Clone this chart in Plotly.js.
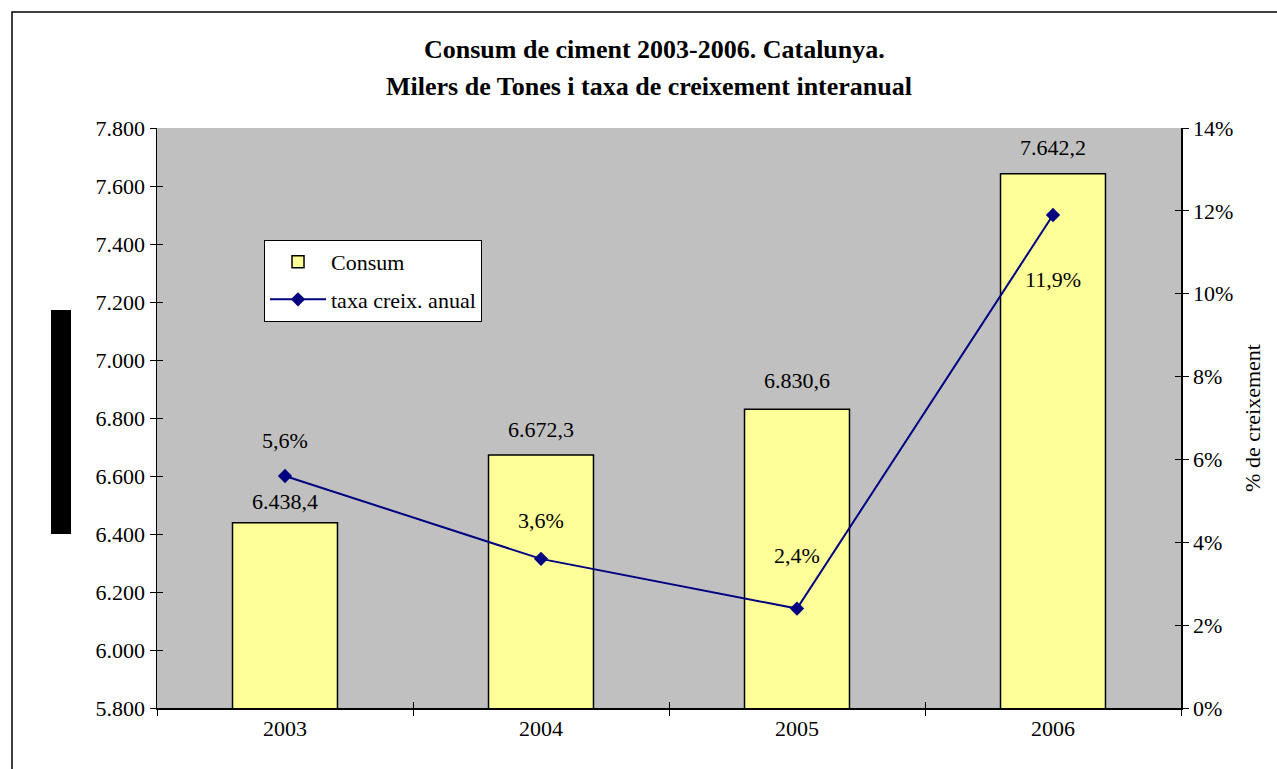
<!DOCTYPE html>
<html>
<head>
<meta charset="utf-8">
<script src="https://cdn.plot.ly/plotly-3.0.1.min.js"></script>
<style>html,body{margin:0;padding:0;background:#fff;}#chart{width:1277px;height:769px;}</style>
</head>
<body>
<div id="chart"></div>
<script>
// ---- data ----
const years = ['2003', '2004', '2005', '2006'];
const consum = [6438.4, 6672.3, 6830.6, 7642.2];
const taxa = [0.056, 0.036, 0.024, 0.119];

// ---- label placement (style, not data) ----
const barLabelShift = [21, 26, 29, 26];
const lineLabelShift = [36, 38, 53, -64];

const FONT = 'Liberation Serif, Times New Roman, serif';
const FS = 22;
const fmtNum = v => v.toFixed(1).replace('.', ',').replace(/\B(?=(\d{3})+(?!\d))/g, '.');

const traces = [
  {
    type: 'bar', name: 'Consum', x: years, y: consum, yaxis: 'y',
    width: 0.41, legendgroup: 'a',
    marker: {color: '#FFFF99', line: {color: '#000000', width: 1.5}},
    hoverinfo: 'skip'
  },
  {
    type: 'scatter', mode: 'lines+markers', name: 'taxa creix. anual',
    x: years, y: taxa, yaxis: 'y2', legendgroup: 'b',
    line: {color: '#000080', width: 2},
    marker: {symbol: 'diamond', size: 11, color: '#000080'},
    hoverinfo: 'skip'
  },
  // empty helper traces so the inside-tick axes get drawn (cross ticks)
  {type: 'scatter', mode: 'markers', x: [], y: [], xaxis: 'x2', yaxis: 'y3', showlegend: false, hoverinfo: 'skip'},
  {type: 'scatter', mode: 'markers', x: [], y: [], xaxis: 'x2', yaxis: 'y4', showlegend: false, hoverinfo: 'skip'}
];

const annotations = [];
years.forEach((yr, i) => {
  annotations.push({
    x: i, y: consum[i], xref: 'x', yref: 'y', text: fmtNum(consum[i]),
    showarrow: false, yanchor: 'middle', yshift: barLabelShift[i],
    font: {family: FONT, size: FS, color: '#000'}
  });
  annotations.push({
    x: i, y: taxa[i], xref: 'x', yref: 'y2', text: (taxa[i] * 100).toFixed(1).replace('.', ',') + '%',
    showarrow: false, yanchor: 'middle', yshift: lineLabelShift[i],
    font: {family: FONT, size: FS, color: '#000'}
  });
});
annotations.push({
  xref: 'paper', yref: 'paper', x: 0.4854, y: 1.1345, xanchor: 'center', yanchor: 'middle',
  showarrow: false, text: '<b>Consum de ciment 2003-2006. Catalunya.</b>',
  font: {family: FONT, size: 26, color: '#000'}
});
annotations.push({
  xref: 'paper', yref: 'paper', x: 0.4805, y: 1.0724, xanchor: 'center', yanchor: 'middle',
  showarrow: false, text: '<b>Milers de Tones i taxa de creixement interanual</b>',
  font: {family: FONT, size: 26, color: '#000'}
});

const layout = {
  width: 1277, height: 769,
  margin: {l: 157, r: 96, t: 128, b: 61},
  paper_bgcolor: '#ffffff', plot_bgcolor: '#C0C0C0',
  separators: ',.',
  font: {family: FONT, size: FS, color: '#000'},
  showlegend: true,
  legend: {
    x: 0.1045, y: 0.807, xanchor: 'left', yanchor: 'top',
    bgcolor: '#ffffff', bordercolor: '#000000', borderwidth: 1,
    font: {family: FONT, size: FS, color: '#000'},
    tracegroupgap: 6, itemwidth: 56
  },
  xaxis: {
    type: 'category', range: [-0.5, 3.5], showline: true, linecolor: '#000', linewidth: 1.5,
    ticks: 'outside', tickson: 'boundaries', ticklen: 6, tickcolor: '#000',
    showgrid: false, zeroline: false,
    tickfont: {family: FONT, size: FS}, fixedrange: true
  },
  xaxis2: {
    type: 'linear', range: [-0.5, 3.5], overlaying: 'x', anchor: 'y3', side: 'bottom',
    tick0: -0.5, dtick: 1,
    ticks: 'inside', ticklen: 6, tickcolor: '#000',
    showticklabels: false, showline: false, showgrid: false, zeroline: false, fixedrange: true
  },
  yaxis: {
    range: [5800, 7800], dtick: 200, tickformat: ',d',
    showline: true, linecolor: '#000', linewidth: 1.5, mirror: false,
    ticks: 'outside', ticklen: 6, tickcolor: '#000',
    showgrid: false, zeroline: false,
    tickfont: {family: FONT, size: FS}, fixedrange: true
  },
  yaxis2: {
    overlaying: 'y', side: 'right', range: [0, 0.14], dtick: 0.02, tickformat: '.0%',
    showline: true, linecolor: '#000', linewidth: 1.5,
    ticks: 'outside', ticklen: 6, tickcolor: '#000',
    showgrid: false, zeroline: false,
    tickfont: {family: FONT, size: FS}, fixedrange: true,
    title: {text: '% de creixement', font: {family: FONT, size: FS}, standoff: 12}
  },
  yaxis3: {
    overlaying: 'y', side: 'left', anchor: 'x2', range: [5800, 7800], dtick: 200,
    ticks: 'inside', ticklen: 6, tickcolor: '#000',
    showticklabels: false, showline: false, showgrid: false, zeroline: false, fixedrange: true
  },
  yaxis4: {
    overlaying: 'y', side: 'right', anchor: 'x2', range: [0, 0.14], dtick: 0.02,
    ticks: 'inside', ticklen: 6, tickcolor: '#000',
    showticklabels: false, showline: false, showgrid: false, zeroline: false, fixedrange: true
  },
  annotations: annotations,
  shapes: [
    {type: 'rect', xref: 'paper', yref: 'paper', x0: -0.1416, x1: 1.12, y0: -0.13, y1: 1.2,
     line: {color: '#000', width: 1.5}, fillcolor: 'rgba(0,0,0,0)', layer: 'below'},
    {type: 'rect', xref: 'paper', yref: 'paper', x0: (51 - 157) / 1024, x1: (71 - 157) / 1024,
     y0: (708 - 534) / 580, y1: (708 - 310) / 580,
     line: {width: 0}, fillcolor: '#000'}
  ]
};

Plotly.newPlot('chart', traces, layout, {displayModeBar: false, staticPlot: true});
</script>
</body>
</html>
